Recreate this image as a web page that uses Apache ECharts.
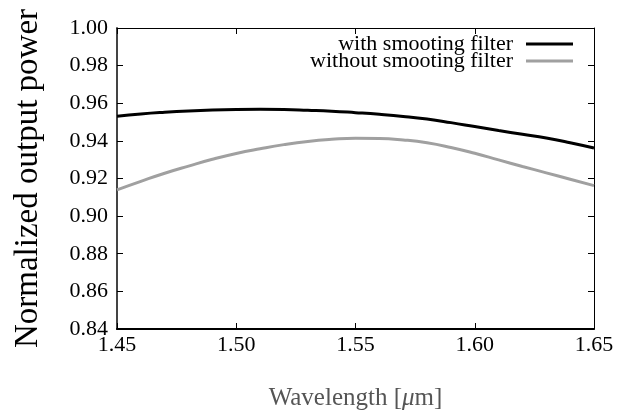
<!DOCTYPE html>
<html>
<head>
<meta charset="utf-8">
<script src="https://cdn.jsdelivr.net/npm/echarts@6/dist/echarts.min.js"></script>
<style>html,body{margin:0;padding:0;background:#fff}#c{width:638px;height:420px}</style>
</head>
<body>
<div id="c"></div>
<script>
var wavelengths = [1.45,1.46,1.47,1.48,1.49,1.50,1.51,1.52,1.53,1.54,1.55,1.56,1.57,1.58,1.59,1.60,1.61,1.62,1.63,1.64,1.65];
var withFilter = [0.9531,0.9543,0.9552,0.9559,0.9564,0.9567,0.9568,0.9567,0.9563,0.9558,0.9550,0.9541,0.9530,0.9516,0.9497,0.9476,0.9455,0.9435,0.9415,0.9390,0.9362];
var withoutFilter = [0.9140,0.9185,0.9228,0.9266,0.9302,0.9333,0.9358,0.9380,0.9397,0.9408,0.9414,0.9413,0.9405,0.9390,0.9365,0.9334,0.9299,0.9264,0.9230,0.9196,0.9162];
var seriesNames = ['with smooting filter', 'without smooting filter'];
var xTicks = ['1.45','1.50','1.55','1.60','1.65'];
var yTicks = ['0.84','0.86','0.88','0.90','0.92','0.94','0.96','0.98','1.00'];

var FONT = 'Liberation Serif';
function pairs(xs, ys){ return xs.map(function(x,i){ return [x, ys[i]]; }); }

var chart = echarts.init(document.getElementById('c'), null, {renderer:'canvas'});
chart.setOption({
  animation: false,
  backgroundColor: '#fff',
  textStyle: {fontFamily: FONT},
  grid: {left: 117, right: 44, top: 28, bottom: 91},
  legend: {
    orient: 'vertical',
    right: 60,
    top: 28,
    align: 'right',
    itemWidth: 47,
    itemHeight: 3,
    itemGap: -5,
    icon: 'rect',
    textStyle: {fontFamily: FONT, fontSize: 22, color: '#000', padding: [0, 8, 0, 0]},
    data: seriesNames
  },
  xAxis: [{
    type: 'value', min: 1.45, max: 1.65, interval: 0.05,
    axisLine: {lineStyle: {color: '#000', width: 2}},
    axisTick: {inside: true, length: 6, lineStyle: {color: '#000', width: 1}},
    splitLine: {show: false},
    axisLabel: {fontFamily: FONT, fontSize: 22, color: '#000', margin: 5,
      formatter: function(v){ var i = Math.round((v-1.45)/0.05); return xTicks[i] || ''; }},
    name: 'Wavelength [{i|μ}m]',
    nameLocation: 'middle', nameGap: 57,
    nameTextStyle: {fontFamily: FONT, fontSize: 25, color: '#555',
      rich: {i: {fontFamily: FONT, fontStyle: 'italic', fontSize: 25, color: '#555'}}}
  }, {
    type: 'value', min: 1.45, max: 1.65, interval: 0.05, position: 'top',
    axisLine: {show: true, lineStyle: {color: '#000', width: 1}},
    axisTick: {inside: true, length: 6, lineStyle: {color: '#000', width: 1}},
    axisLabel: {show: false}, splitLine: {show: false}
  }],
  yAxis: [{
    type: 'value', min: 0.84, max: 1.00, interval: 0.02,
    axisLine: {show: true, lineStyle: {color: '#444', width: 2}},
    axisTick: {show: true, inside: true, length: 6, lineStyle: {color: '#000', width: 1}},
    splitLine: {show: false},
    axisLabel: {fontFamily: FONT, fontSize: 22, color: '#000', margin: 9,
      formatter: function(v){ var i = Math.round((v-0.84)/0.02); return yTicks[i] || ''; }},
    name: 'Normalized output power',
    nameLocation: 'middle', nameGap: 72,
    nameTextStyle: {fontFamily: FONT, fontSize: 33, color: '#000'}
  }, {
    type: 'value', min: 0.84, max: 1.00, interval: 0.02, position: 'right',
    axisLine: {show: true, lineStyle: {color: '#000', width: 1}},
    axisTick: {show: true, inside: true, length: 6, lineStyle: {color: '#000', width: 1}},
    axisLabel: {show: false}, splitLine: {show: false}
  }],
  series: [{
    name: seriesNames[0], type: 'line', smooth: true, showSymbol: false,
    data: pairs(wavelengths, withFilter),
    lineStyle: {color: '#000', width: 3}, itemStyle: {color: '#000'}
  }, {
    name: seriesNames[1], type: 'line', smooth: true, showSymbol: false,
    data: pairs(wavelengths, withoutFilter),
    lineStyle: {color: '#a0a0a0', width: 3}, itemStyle: {color: '#a0a0a0'}
  }]
});
</script>
</body>
</html>
